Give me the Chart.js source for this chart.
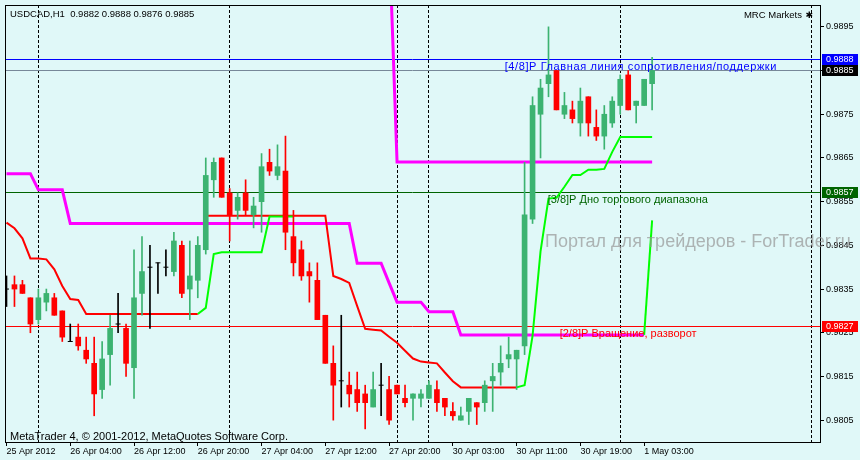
<!DOCTYPE html>
<html>
<head>
<meta charset="utf-8">
<title>USDCAD,H1</title>
<script src="https://cdn.jsdelivr.net/npm/chart.js@4.4.1/dist/chart.umd.min.js"></script>
<style>
  html, body { margin: 0; padding: 0; background: #e0f8f8; }
  canvas { display: block; }
</style>
</head>
<body>
<canvas id="chart" width="860" height="460"></canvas>
<script>
// USDCAD H1, bars from 25 Apr 2012 20:00 to 1 May 2012 04:00
const symbol = 'USDCAD,H1';
const barsPerTick = 8;
const xTickLabels = ['25 Apr 2012', '26 Apr 04:00', '26 Apr 12:00', '26 Apr 20:00', '27 Apr 04:00',
  '27 Apr 12:00', '27 Apr 20:00', '30 Apr 03:00', '30 Apr 11:00', '30 Apr 19:00', '1 May 03:00'];
const yTicks = [0.9805, 0.9815, 0.9825, 0.9835, 0.9845, 0.9855, 0.9865, 0.9875, 0.9885, 0.9895];
const daySeparators = [4, 28, 49, 53, 77, 101];

const open = [
  0.9835, 0.9836, 0.9836, 0.9833, 0.9828, 0.9832, 0.9833, 0.9830, 0.9823, 0.9824,
  0.9821, 0.9818, 0.9812, 0.9820, 0.9827, 0.9826, 0.9817, 0.9834, 0.9840, 0.9841,
  0.9840, 0.9839, 0.9845, 0.9835, 0.9837, 0.9844, 0.9860, 0.9865, 0.9857, 0.9853,
  0.9857, 0.9852, 0.9855, 0.9864, 0.9861, 0.9862, 0.9847, 0.9844, 0.9839, 0.9837,
  0.9829, 0.9818, 0.9814, 0.9813, 0.9812, 0.9811, 0.9808, 0.9813, 0.9812, 0.9813,
  0.9810, 0.9810, 0.9810, 0.9810, 0.9812, 0.9810, 0.9807, 0.9805, 0.9807, 0.9809,
  0.9809, 0.9814, 0.9816, 0.9819, 0.9819, 0.9822, 0.9851, 0.9875, 0.9882, 0.9885,
  0.9875, 0.9876, 0.9873, 0.9879, 0.9872, 0.9870, 0.9873, 0.9877, 0.9884, 0.9877,
  0.9877, 0.9882];
const high = [
  0.9838, 0.9838, 0.9837, 0.9833, 0.9835, 0.9835, 0.9834, 0.9830, 0.9827, 0.9827,
  0.9824, 0.9824, 0.9823, 0.9829, 0.9834, 0.9827, 0.9844, 0.9847, 0.9845, 0.9841,
  0.9844, 0.9848, 0.9846, 0.9846, 0.9847, 0.9865, 0.9865, 0.9865, 0.9858, 0.9857,
  0.9860, 0.9856, 0.9866, 0.9867, 0.9868, 0.9870, 0.9853, 0.9846, 0.9841, 0.9841,
  0.9829, 0.9822, 0.9829, 0.9816, 0.9816, 0.9813, 0.9816, 0.9818, 0.9815, 0.9813,
  0.9813, 0.9811, 0.9812, 0.9814, 0.9814, 0.9810, 0.9809, 0.9808, 0.9810, 0.9809,
  0.9814, 0.9818, 0.9822, 0.9824, 0.9821, 0.9864, 0.9879, 0.9883, 0.9895, 0.9885,
  0.9880, 0.9878, 0.9881, 0.9879, 0.9876, 0.9877, 0.9879, 0.9884, 0.9885, 0.9878,
  0.9883, 0.9888];
const low = [
  0.9831, 0.9831, 0.9834, 0.9825, 0.9827, 0.9830, 0.9829, 0.9823, 0.9823, 0.9821,
  0.9818, 0.9806, 0.9810, 0.9813, 0.9825, 0.9815, 0.9810, 0.9829, 0.9826, 0.9834,
  0.9838, 0.9838, 0.9833, 0.9828, 0.9833, 0.9843, 0.9856, 0.9856, 0.9846, 0.9851,
  0.9852, 0.9849, 0.9848, 0.9861, 0.9860, 0.9844, 0.9838, 0.9837, 0.9832, 0.9828,
  0.9818, 0.9805, 0.9808, 0.9808, 0.9807, 0.9803, 0.9808, 0.9806, 0.9804, 0.9811,
  0.9808, 0.9805, 0.9808, 0.9810, 0.9807, 0.9806, 0.9805, 0.9805, 0.9804, 0.9804,
  0.9807, 0.9807, 0.9813, 0.9817, 0.9812, 0.9820, 0.9850, 0.9865, 0.9879, 0.9876,
  0.9874, 0.9873, 0.9870, 0.9870, 0.9869, 0.9867, 0.9872, 0.9875, 0.9876, 0.9873,
  0.9877, 0.9876];
const close = [
  0.9835, 0.9835, 0.9834, 0.9827, 0.9833, 0.9834, 0.9829, 0.9824, 0.9823, 0.9822,
  0.9819, 0.9811, 0.9819, 0.9826, 0.9827, 0.9818, 0.9833, 0.9839, 0.9840, 0.9841,
  0.9840, 0.9846, 0.9834, 0.9838, 0.9845, 0.9861, 0.9864, 0.9856, 0.9852, 0.9856,
  0.9853, 0.9854, 0.9863, 0.9862, 0.9863, 0.9848, 0.9841, 0.9838, 0.9838, 0.9828,
  0.9818, 0.9813, 0.9814, 0.9811, 0.9809, 0.9809, 0.9812, 0.9813, 0.9805, 0.9811,
  0.9809, 0.9811, 0.9811, 0.9813, 0.9809, 0.9808, 0.9806, 0.9806, 0.9810, 0.9808,
  0.9813, 0.9815, 0.9818, 0.9820, 0.9821, 0.9852, 0.9877, 0.9881, 0.9884, 0.9876,
  0.9877, 0.9874, 0.9878, 0.9873, 0.9870, 0.9875, 0.9878, 0.9883, 0.9876, 0.9878,
  0.9883, 0.9885];

// indicator buffers: first bar index and the values
const magentaLowFrom = 0;
const magentaLow = [
  0.98614, 0.98614, 0.98614, 0.98614, 0.98577, 0.98577, 0.98577, 0.98577,
  0.98500, 0.98500, 0.98500, 0.98500, 0.98500, 0.98500, 0.98500, 0.98500, 0.98500, 0.98500,
  0.98500, 0.98500, 0.98500, 0.98500, 0.98500, 0.98500, 0.98500, 0.98500, 0.98500, 0.98500,
  0.98500, 0.98500, 0.98500, 0.98500, 0.98500, 0.98500, 0.98500, 0.98500, 0.98500, 0.98500,
  0.98500, 0.98500, 0.98500, 0.98500, 0.98500, 0.98500,
  0.98409, 0.98409, 0.98409, 0.98409, 0.98364, 0.98320, 0.98320, 0.98320, 0.98320,
  0.98298, 0.98298, 0.98298, 0.98298,
  0.98245, 0.98245, 0.98245, 0.98245, 0.98245, 0.98245, 0.98245, 0.98245, 0.98245, 0.98245,
  0.98245, 0.98245, 0.98245, 0.98245, 0.98245, 0.98245, 0.98245, 0.98245, 0.98245, 0.98245,
  0.98245, 0.98245, 0.98245, 0.98245];
const magentaHighFrom = 48;
const magentaHigh = [
  0.99160, 0.98641, 0.98641, 0.98641, 0.98641, 0.98641, 0.98641, 0.98641, 0.98641, 0.98641,
  0.98641, 0.98641, 0.98641, 0.98641, 0.98641, 0.98641, 0.98641, 0.98641, 0.98641, 0.98641,
  0.98641, 0.98641, 0.98641, 0.98641, 0.98641, 0.98641, 0.98641, 0.98641, 0.98641, 0.98641,
  0.98641, 0.98641, 0.98641, 0.98641];
const redFirstFrom = 0;
const redFirst = [
  0.98502, 0.98489, 0.98466, 0.98420, 0.98420, 0.98418, 0.98395, 0.98357, 0.98327, 0.98325,
  0.98293, 0.98293, 0.98293, 0.98293, 0.98293, 0.98293, 0.98293, 0.98293, 0.98293, 0.98293,
  0.98293, 0.98293, 0.98293, 0.98293, 0.98293];
const redSecondFrom = 25;
const redSecond = [
  0.98518, 0.98518, 0.98518, 0.98518, 0.98518, 0.98518, 0.98518, 0.98518,
  0.98518, 0.98518, 0.98518, 0.98518, 0.98518, 0.98518, 0.98518, 0.98518,
  0.98380, 0.98373, 0.98364, 0.98311, 0.98259, 0.98257, 0.98255, 0.98241,
  0.98227, 0.98209, 0.98191, 0.98184, 0.98182, 0.98180, 0.98159, 0.98139,
  0.98125, 0.98125, 0.98125, 0.98125, 0.98125, 0.98125, 0.98125, 0.98125];
const greenFirstFrom = 24;
const greenFirst = [
  0.98293, 0.98307, 0.98430, 0.98434, 0.98434, 0.98434, 0.98434, 0.98434, 0.98434,
  0.98516, 0.98516, 0.98516, 0.98516];
const greenSecondFrom = 64;
const greenSecond = [
  0.98125, 0.98130, 0.98243, 0.98436, 0.98557, 0.98559, 0.98584, 0.98611, 0.98611,
  0.98623, 0.98623, 0.98625, 0.98664, 0.98698, 0.98698, 0.98698, 0.98698, 0.98698];
const greenLastFrom = 80;
const greenLast = [0.98245, 0.98507];

// horizontal levels (Murrey lines and bid line)
const levelPrices = [0.98875, 0.9885, 0.98570, 0.98265];
const levelTags = ['0.9888', '0.9885', '0.9857', '0.9827'];
const levelColors = ['#0000ff', '#778899', '#006400', '#ff0000'];
const tagColors = ['#0000ff', '#000000', '#006400', '#ff0000'];
const captionTexts = ['[4/8]P Главная линия сопротивления/поддержки', '', '[3/8]P Дно торгового диапазона', '[2/8]P Вращение, разворот'];
const captionBars = [62.5, 0, 67.9, 69.4];
const captionSpacing = ['0.6px', '0px', '0px', '0px'];

const fontFamily = "'Liberation Sans', Arial, sans-serif";
Chart.defaults.font.family = fontFamily;
Chart.defaults.font.size = 9;
Chart.defaults.color = '#000';

const bullColor = '#3cb371';
const bearColor = '#ff0000';
const dojiColor = '#000000';
const barIndex = open.map((_, i) => i);
const candleColor = i => close[i] > open[i] ? bullColor : (close[i] < open[i] ? bearColor : dojiColor);
const series = (from, values) => values.map((v, k) => ({ x: from + k, y: v }));
const fmt = v => v.toFixed(4);

const mtDecor = {
    id: 'mtDecor',
    beforeDatasetsDraw(chart) {
        const { ctx, chartArea: a, scales } = chart;
        ctx.save();
        ctx.lineWidth = 1;
        ctx.strokeStyle = '#000';
        ctx.setLineDash([3, 2]);
        daySeparators.forEach(i => {
            const px = Math.floor(scales.x.getPixelForValue(i)) + 0.5;
            ctx.beginPath();
            ctx.moveTo(px, a.top);
            ctx.lineTo(px, a.bottom);
            ctx.stroke();
        });
        ctx.setLineDash([]);
        levelPrices.forEach((p, k) => {
            const py = Math.floor(scales.y.getPixelForValue(p)) + 0.5;
            ctx.strokeStyle = levelColors[k];
            ctx.beginPath();
            ctx.moveTo(a.left, py);
            ctx.lineTo(a.right, py);
            ctx.stroke();
        });
        ctx.restore();
    },
    afterDatasetsDraw(chart) {
        const { ctx, scales } = chart;
        ctx.save();
        ctx.font = `11px ${fontFamily}`;
        ctx.textBaseline = 'top';
        captionTexts.forEach((t, k) => {
            if (!t) return;
            ctx.letterSpacing = captionSpacing[k];
            ctx.fillStyle = levelColors[k];
            ctx.fillText(t, scales.x.getPixelForValue(captionBars[k]),
                Math.floor(scales.y.getPixelForValue(levelPrices[k])) + 2);
        });
        ctx.restore();
    },
    afterDraw(chart) {
        const { ctx, chartArea: a, scales } = chart;
        const last = open.length - 1;
        ctx.save();
        // frame
        ctx.strokeStyle = '#000';
        ctx.lineWidth = 1;
        ctx.strokeRect(a.left + 0.5, a.top + 0.5, a.right - a.left, a.bottom - a.top);

        // price scale labels
        ctx.font = `9px ${fontFamily}`;
        ctx.textBaseline = 'middle';
        ctx.fillStyle = '#000';
        yTicks.forEach(v => {
            ctx.fillText(fmt(v), a.right + 6, Math.floor(scales.y.getPixelForValue(v)) + 0.5);
        });

        // price tags on the axis
        levelPrices.forEach((p, k) => {
            const row = Math.floor(scales.y.getPixelForValue(p));
            ctx.fillStyle = tagColors[k];
            ctx.fillRect(a.right + 2, row - 5, 36, 11);
            ctx.fillStyle = '#fff';
            ctx.fillText(levelTags[k], a.right + 6, row + 0.5);
        });

        // header and corner texts
        ctx.fillStyle = '#000';
        ctx.textBaseline = 'alphabetic';
        ctx.font = `9.5px ${fontFamily}`;
        ctx.fillText(`${symbol}  ${fmt(open[last])} ${fmt(high[last])} ${fmt(low[last])} ${fmt(close[last])}`,
            a.left + 5, a.top + 12);
        ctx.textAlign = 'right';
        ctx.fillText('MRC Markets', a.right - 18, a.top + 13);
        ctx.font = "9px 'DejaVu Sans', sans-serif";
        ctx.fillText('\u2731', a.right - 7, a.top + 13);
        ctx.textAlign = 'left';
        ctx.font = `11px ${fontFamily}`;
        ctx.fillText('MetaTrader 4, \u00a9 2001-2012, MetaQuotes Software Corp.', a.left + 5, a.bottom - 2);

        // watermark
        ctx.font = `18px ${fontFamily}`;
        ctx.fillStyle = 'rgba(150, 150, 150, 0.7)';
        ctx.fillText('Портал для трейдеров - ForTrader.ru', 545, 247);
        ctx.restore();
    }
};

new Chart(document.getElementById('chart'), {
    type: 'bar',
    data: {
        datasets: [
            {
                type: 'bar', label: 'wick',
                data: barIndex.map(i => ({ x: i, y: [low[i], high[i]] })),
                backgroundColor: c => c.raw ? candleColor(c.raw.x) : bullColor,
                barThickness: 1, grouped: false, order: 2
            },
            {
                type: 'bar', label: 'body',
                data: barIndex.filter(i => open[i] !== close[i]).map(i => ({ x: i, y: [open[i], close[i]] })),
                backgroundColor: c => c.raw ? candleColor(c.raw.x) : bullColor,
                barThickness: 5, grouped: false, order: 1
            },
            {
                type: 'line', label: 'doji',
                data: barIndex.filter(i => open[i] === close[i]).map(i => ({ x: i, y: open[i] })),
                showLine: false, pointStyle: 'line', pointRadius: 2.5,
                borderColor: dojiColor, borderWidth: 1, order: 0
            },
            { type: 'line', label: 'magenta low', data: series(magentaLowFrom, magentaLow),
              borderColor: '#ff00ff', borderWidth: 3, pointRadius: 0, order: 5 },
            { type: 'line', label: 'magenta high', data: series(magentaHighFrom, magentaHigh),
              borderColor: '#ff00ff', borderWidth: 3, pointRadius: 0, order: 5 },
            { type: 'line', label: 'red 1', data: series(redFirstFrom, redFirst),
              borderColor: '#ff0000', borderWidth: 2, pointRadius: 0, order: 4 },
            { type: 'line', label: 'red 2', data: series(redSecondFrom, redSecond),
              borderColor: '#ff0000', borderWidth: 2, pointRadius: 0, order: 4 },
            { type: 'line', label: 'green 1', data: series(greenFirstFrom, greenFirst),
              borderColor: '#00ff00', borderWidth: 2, pointRadius: 0, order: 3 },
            { type: 'line', label: 'green 2', data: series(greenSecondFrom, greenSecond),
              borderColor: '#00ff00', borderWidth: 2, pointRadius: 0, order: 3 },
            { type: 'line', label: 'green 3', data: series(greenLastFrom, greenLast),
              borderColor: '#00ff00', borderWidth: 2, pointRadius: 0, order: 3 }
        ]
    },
    options: {
        responsive: false,
        animation: false,
        events: [],
        layout: { padding: { left: 2, top: 2, right: 0, bottom: 0 } },
        plugins: { legend: { display: false }, tooltip: { enabled: false } },
        scales: {
            x: {
                type: 'linear', position: 'bottom', offset: false,
                min: -0.1875, max: 102.0625,
                border: { display: false },
                grid: { drawOnChartArea: false, tickLength: 4, color: '#000', offset: false },
                ticks: {
                    align: 'start', padding: 0, maxRotation: 0, autoSkip: false,
                    font: { size: 9 },
                    callback: (v, k) => xTickLabels[k]
                },
                afterBuildTicks: s => { s.ticks = xTickLabels.map((_, k) => ({ value: k * barsPerTick })); },
                afterFit: s => { s.height = 18; }
            },
            y: {
                type: 'linear', position: 'right',
                min: 0.98, max: 0.99,
                border: { display: false },
                grid: { drawOnChartArea: false, tickLength: 4, color: '#000' },
                ticks: { display: false },
                afterBuildTicks: s => { s.ticks = yTicks.map(v => ({ value: v })); },
                afterFit: s => { s.width = 40; }
            }
        }
    },
    plugins: [mtDecor]
});
</script>
</body>
</html>
